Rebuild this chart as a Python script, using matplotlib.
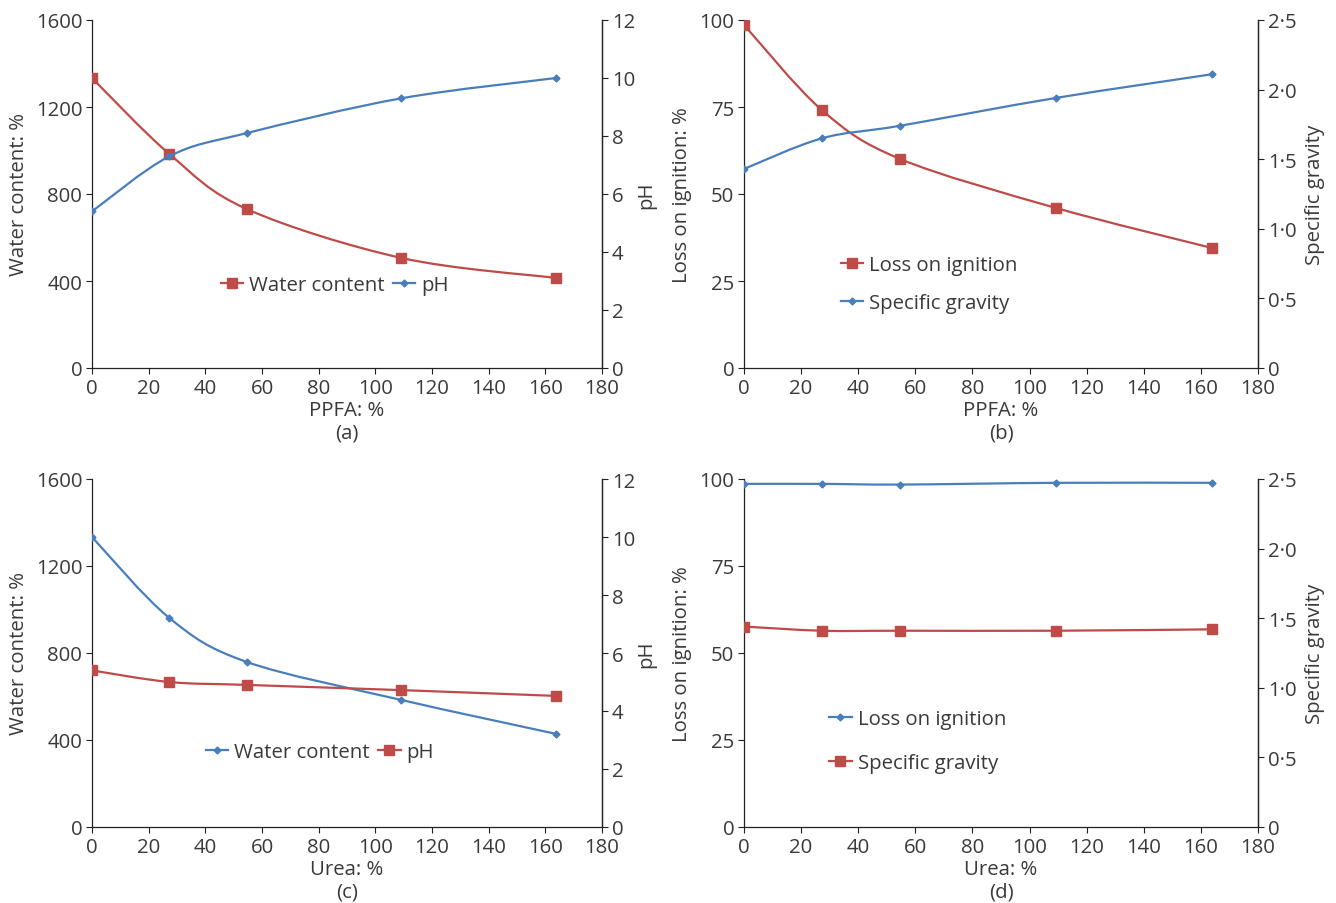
import numpy as np
import matplotlib
matplotlib.use("Agg")
import matplotlib.pyplot as plt
from matplotlib.path import Path
from matplotlib.patches import PathPatch
from matplotlib.lines import Line2D
from matplotlib.ticker import FuncFormatter

plt.rcParams['font.family'] = ['Open Sans', 'DejaVu Sans']

# data
ppfa = [0, 27.3, 54.6, 109.2, 163.8]
urea = [0, 27.3, 54.6, 109.2, 163.8]
a_water = [1333, 984, 731, 506, 414]
a_ph = [5.4, 7.3, 8.1, 9.3, 10.0]
b_loi = [98.6, 74.1, 60.1, 46.0, 34.5]
b_sg = [1.43, 1.65, 1.74, 1.94, 2.11]
c_water = [1333, 961, 759, 584, 428]
c_ph = [5.4, 5.0, 4.9, 4.72, 4.52]
d_loi = [98.6, 98.6, 98.4, 98.9, 98.9]
d_sg = [1.44, 1.41, 1.41, 1.41, 1.42]

RED = '#BE4B48'
BLUE = '#4A7EBB'
TXT = '#3a3a3a'
FS = 14.7


def smooth_line(ax, x, y, color):
    # excel-style smoothed line: bezier through points
    p = np.column_stack([x, y]).astype(float)
    n = len(p)
    verts = [p[0]]
    codes = [Path.MOVETO]
    for i in range(n - 1):
        p0 = p[i - 1] if i > 0 else p[i]
        p3 = p[i + 2] if i + 2 < n else p[i + 1]
        c1 = p[i] + (p[i + 1] - p0) / 6
        c2 = p[i + 1] - (p3 - p[i]) / 6
        verts += [c1, c2, p[i + 1]]
        codes += [Path.CURVE4] * 3
    ax.add_patch(PathPatch(Path(verts, codes), fill=False, edgecolor=color, lw=1.6, zorder=2))


def series(ax, x, y, color, marker, ms):
    smooth_line(ax, x, y, color)
    ax.plot(x, y, ls='none', marker=marker, ms=ms, color=color, zorder=3)
    return Line2D([], [], color=color, lw=1.6, marker=marker, ms=ms)


def dot_fmt(v, pos):
    if abs(v) < 1e-9:
        return '0'
    return ('%.1f' % v).replace('.', '\u00b7')


def panel(rect, x, y1, y2, c1, c2, m1, m2, ylim1, yt1, ylim2, yt2, ylab1, ylab2, xlab,
          names, leg_xy, ncol, lspace, dotted=False, rpad=6):
    ax = fig.add_axes(rect)
    ax2 = ax.twinx()
    h1 = series(ax, x, y1, c1, m1[0], m1[1])
    h2 = series(ax2, x, y2, c2, m2[0], m2[1])
    ax.set_xlim(0, 180)
    ax.set_xticks(range(0, 181, 20))
    ax.set_ylim(*ylim1)
    ax.set_yticks(yt1)
    ax2.set_ylim(*ylim2)
    ax2.set_yticks(yt2)
    if dotted:
        ax2.yaxis.set_major_formatter(FuncFormatter(dot_fmt))
    for a in (ax, ax2):
        a.spines['top'].set_visible(False)
        for s in a.spines.values():
            s.set_linewidth(0.9)
            s.set_color('#222222')
        a.tick_params(direction='out', length=4, width=0.8, colors='#222222',
                      labelsize=FS, labelcolor=TXT, pad=3)
    ax2.spines['left'].set_visible(False)
    ax2.spines['bottom'].set_visible(False)
    ax.set_ylabel(ylab1, fontsize=FS, color=TXT, labelpad=5)
    ax2.set_ylabel(ylab2, fontsize=FS, color=TXT, labelpad=rpad)
    ax.set_xlabel(xlab, fontsize=FS, color=TXT, labelpad=2, linespacing=1.15)
    leg = ax2.legend([h1, h2], names, loc='center', bbox_to_anchor=leg_xy, ncol=ncol,
                     frameon=False, fontsize=FS, handlelength=1.1, handletextpad=0.3,
                     columnspacing=0.4, labelspacing=lspace, borderpad=0)
    for t in leg.get_texts():
        t.set_color(TXT)
    return ax, ax2


fig = plt.figure(figsize=(13.36, 9.04), dpi=100)
W, H = 1336.0, 904.0
left_a, left_b = 92 / W, 744 / W
wa, wb = 510 / W, 514 / W
top_row, bot_row = 1 - 369 / H, 1 - 828 / H
hh = 348 / H

wc_ticks = [0, 400, 800, 1200, 1600]
ph_ticks = [0, 2, 4, 6, 8, 10, 12]
loi_ticks = [0, 25, 50, 75, 100]
sg_ticks = [0, 0.5, 1.0, 1.5, 2.0, 2.5]

panel([left_a, top_row, wa, hh], ppfa, a_water, a_ph, RED, BLUE, ('s', 6.5), ('D', 3.5),
      (0, 1600), wc_ticks, (0, 12), ph_ticks, 'Water content: %', 'pH', 'PPFA: %\n(a)',
      ['Water content', 'pH'], (0.476, 0.239), 2, 0.5, rpad=1)
panel([left_b, top_row, wb, hh], ppfa, b_loi, b_sg, RED, BLUE, ('s', 6.5), ('D', 3.5),
      (0, 100), loi_ticks, (0, 2.5), sg_ticks, 'Loss on ignition: %', 'Specific gravity',
      'PPFA: %\n(b)', ['Loss on ignition', 'Specific gravity'], (0.36, 0.241), 1, 0.85,
      dotted=True)
panel([left_a, bot_row, wa, hh], urea, c_water, c_ph, BLUE, RED, ('D', 3.5), ('s', 6.5),
      (0, 1600), wc_ticks, (0, 12), ph_ticks, 'Water content: %', 'pH', 'Urea: %\n(c)',
      ['Water content', 'pH'], (0.447, 0.215), 2, 0.5, rpad=1)
panel([left_b, bot_row, wb, hh], urea, d_loi, d_sg, BLUE, RED, ('D', 3.5), ('s', 6.5),
      (0, 100), loi_ticks, (0, 2.5), sg_ticks, 'Loss on ignition: %', 'Specific gravity',
      'Urea: %\n(d)', ['Loss on ignition', 'Specific gravity'], (0.338, 0.247), 1, 1.2,
      dotted=True)

fig.savefig('out.png', dpi=100)
